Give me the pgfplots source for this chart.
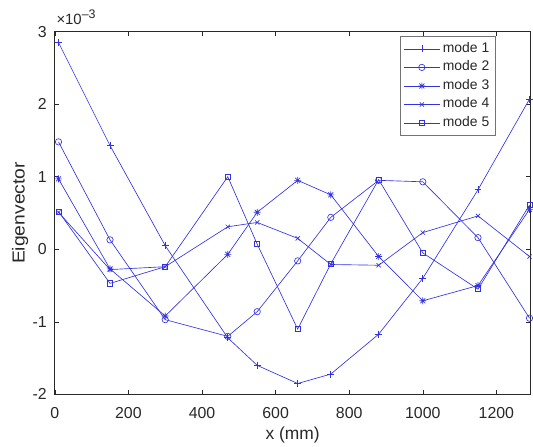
\documentclass[border=0pt]{standalone}
\usepackage{pgfplots}
\pgfplotsset{compat=1.18}
\usepackage{fontspec}
\setmainfont{Liberation Sans}
\definecolor{mb}{RGB}{50,50,225}
\definecolor{ax}{RGB}{40,40,40}
\pgfdeclareplotmark{mstar}{%
  \pgfpathmoveto{\pgfqpoint{-\pgfplotmarksize}{0pt}}\pgfpathlineto{\pgfqpoint{\pgfplotmarksize}{0pt}}%
  \pgfpathmoveto{\pgfqpoint{0pt}{-\pgfplotmarksize}}\pgfpathlineto{\pgfqpoint{0pt}{\pgfplotmarksize}}%
  \pgfpathmoveto{\pgfqpoint{-0.707\pgfplotmarksize}{-0.707\pgfplotmarksize}}\pgfpathlineto{\pgfqpoint{0.707\pgfplotmarksize}{0.707\pgfplotmarksize}}%
  \pgfpathmoveto{\pgfqpoint{-0.707\pgfplotmarksize}{0.707\pgfplotmarksize}}\pgfpathlineto{\pgfqpoint{0.707\pgfplotmarksize}{-0.707\pgfplotmarksize}}%
  \pgfusepathqstroke}

\begin{document}
\begin{tikzpicture}
\begin{axis}[
  scale only axis, width=477bp, height=364bp,
  xmin=0, xmax=1292, ymin=-2, ymax=3,
  xtick={0,200,400,600,800,1000,1200}, ytick={-2,-1,0,1,2,3},
  tick align=inside, major tick length=4.5bp,
  axis line style={ax, line width=0.7bp},
  tick style={ax, line width=0.6bp},
  every tick label/.append style={font=\fontsize{16}{18}\selectfont, text=ax},
  /pgf/number format/assume math mode=true,
  /pgf/number format/1000 sep={},
  xticklabel style={anchor=base, yshift=-24bp, inner sep=0pt},
  yticklabel style={anchor=east, inner sep=0pt, xshift=-8bp},
  xlabel={x (mm)}, ylabel={\scalebox{1.11}[1]{Eigenvector}},
  label style={font=\fontsize{17.5}{20}\selectfont, text=ax},
  xlabel style={at={(axis description cs:0.5,-0.1255)}, anchor=base, inner sep=0pt},
  ylabel style={at={(axis description cs:-0.0556,0.5)}, anchor=south, inner sep=0pt},
  clip mode=individual,
  legend style={at={(axis description cs:0.9266,0.987)}, anchor=north east,
    draw=black!55, line width=0.6bp, fill=white,
    font=\fontsize{14}{16}\selectfont, text=ax, inner sep=3bp, row sep=0pt,
    nodes={text height=10bp, text depth=3bp, inner sep=2.8bp}},
  legend cell align=left,
  legend image code/.code={\draw[mark repeat=2,mark phase=2,#1] plot coordinates {(0bp,0bp)(18bp,0bp)(36bp,0bp)};},
]
\addplot[mb, line width=0.65bp, mark=+, mark size=3.5bp] coordinates {
(10,2.85) (150,1.43) (300,0.05) (470,-1.22) (550,-1.60) (660,-1.85) (750,-1.72) (880,-1.17) (1000,-0.40) (1150,0.82) (1290,2.07)};
\addlegendentry{mode 1}
\addplot[mb, line width=0.65bp, mark=o, mark size=3.2bp] coordinates {
(10,1.48) (150,0.13) (300,-0.97) (470,-1.20) (550,-0.86) (660,-0.16) (750,0.44) (880,0.95) (1000,0.93) (1150,0.16) (1290,-0.95)};
\addlegendentry{mode 2}
\addplot[mb, line width=0.65bp, mark=mstar, mark size=3.5bp] coordinates {
(10,0.97) (150,-0.27) (300,-0.92) (470,-0.07) (550,0.51) (660,0.95) (750,0.75) (880,-0.10) (1000,-0.71) (1150,-0.50) (1290,0.55)};
\addlegendentry{mode 3}
\addplot[mb, line width=0.65bp, mark=x, mark size=3bp] coordinates {
(10,0.51) (150,-0.28) (300,-0.24) (470,0.31) (550,0.37) (660,0.15) (750,-0.21) (880,-0.22) (1000,0.23) (1150,0.46) (1290,-0.10)};
\addlegendentry{mode 4}
\addplot[mb, line width=0.65bp, mark=square, mark size=2.6bp] coordinates {
(10,0.52) (150,-0.47) (300,-0.24) (470,1.00) (550,0.07) (660,-1.10) (750,-0.20) (880,0.96) (1000,-0.05) (1150,-0.55) (1290,0.61)};
\addlegendentry{mode 5}
\end{axis}
\node[anchor=base west, inner sep=0pt, text=ax, font=\fontsize{15}{17}\selectfont] at ([shift={(1.5bp,6.7bp)}]current axis.north west) {×10\raisebox{6bp}{\fontsize{12.5}{14}\selectfont –3}};
\path ([shift={(-55bp,-52bp)}]current axis.south west) rectangle ([shift={(1bp,31.7bp)}]current axis.north east);
\end{tikzpicture}
\end{document}
